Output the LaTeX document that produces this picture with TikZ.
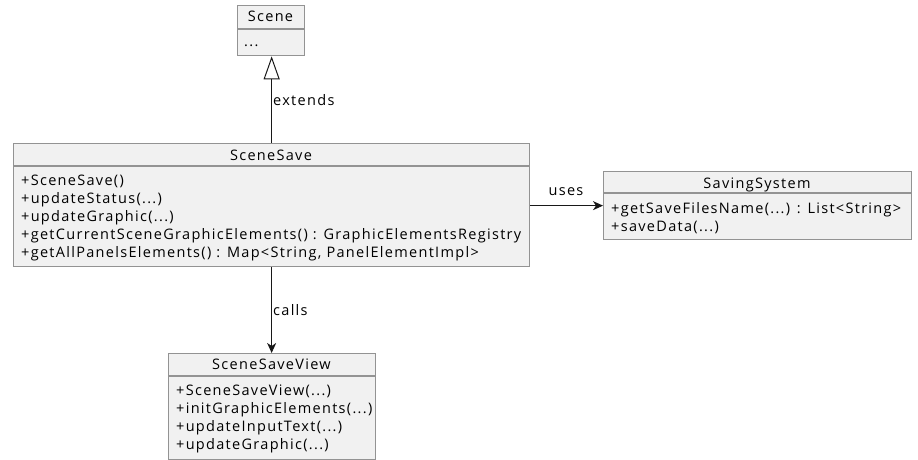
\documentclass[tikz,border=0pt]{standalone}
\usepackage{fontspec}
\setmainfont{Open Sans}[LetterSpace=9]
\usetikzlibrary{arrows.meta}
\definecolor{clsfill}{HTML}{F1F1F1}
\definecolor{clsborder}{HTML}{939393}
\definecolor{linecol}{HTML}{181818}
\begin{document}
\begin{tikzpicture}[x=1pt,y=-1pt,
  cls/.style={draw=clsborder, fill=clsfill, line width=1.3pt, inner sep=0pt, anchor=north west},
  divider/.style={draw=clsborder, line width=1.3pt},
  txt/.style={inner sep=0pt, anchor=base west, text=black, font=\fontsize{14.5}{16}\selectfont},
  ttl/.style={inner sep=0pt, anchor=base, text=black, font=\fontsize{14.5}{16}\selectfont},
  lbl/.style={inner sep=0pt, text=black, font=\fontsize{14.5}{16}\selectfont},
  conn/.style={draw=linecol, line width=1pt},
  arr/.style={conn, -{Stealth[length=10pt, width=9pt, inset=3pt]}},
  ext/.style={conn, -{Triangle[open, length=23pt, width=16pt, line width=1pt]}}
]
\useasboundingbox (0,0) rectangle (918,460);

% Scene
\node[cls, minimum width=67pt, minimum height=50pt] (scene) at (237,5) {};
\draw[divider] (237,29) -- (304,29);
\node[ttl] (scenet) at (270.5,22) {Scene};
\node[txt] (scene1) at (244,47) {...};

% SceneSave
\node[cls, minimum width=516pt, minimum height=123pt] (ss) at (13,143) {};
\draw[divider] (13,166) -- (529,166);
\node[ttl] (sst) at (271,160) {SceneSave};
\node[txt] (ss1) at (21,185) {+SceneSave()};
\node[txt] (ss2) at (21,203) {+updateStatus(...)};
\node[txt] (ss3) at (21,221) {+updateGraphic(...)};
\node[txt] (ss4) at (21,239) {+getCurrentSceneGraphicElements() : GraphicElementsRegistry};
\node[txt] (ss5) at (21,257) {+getAllPanelsElements() : Map<String, PanelElementImpl>};

% SavingSystem
\node[cls, minimum width=308pt, minimum height=68pt] (sv) at (603,171) {};
\draw[divider] (603,193) -- (911,193);
\node[ttl] (svt) at (757,188) {SavingSystem};
\node[txt] (sv1) at (611,213) {+getSaveFilesName(...) : List<String>};
\node[txt] (sv2) at (611,231) {+saveData(...)};

% SceneSaveView
\node[cls, minimum width=207pt, minimum height=106pt] (view) at (168,353) {};
\draw[divider] (168,376) -- (375,376);
\node[ttl] (viewt) at (271.5,369) {SceneSaveView};
\node[txt] (view1) at (176,395) {+SceneSaveView(...)};
\node[txt] (view2) at (176,413) {+initGraphicElements(...)};
\node[txt] (view3) at (176,431) {+updateInputText(...)};
\node[txt] (view4) at (176,449) {+updateGraphic(...)};

% connectors
\draw[ext] (ss.north) -- (ss.north |- scene.south);
\node[lbl, anchor=west] (extl) at (273,100) {extends};
\draw[arr] (ss.east |- sv.west) -- (sv.west);
\node[lbl] (usesl) at (566,192) {uses};
\draw[arr] (ss.south) -- (ss.south |- view.north);
\node[lbl, anchor=west] (callsl) at (273,310) {calls};
\end{tikzpicture}
\end{document}
